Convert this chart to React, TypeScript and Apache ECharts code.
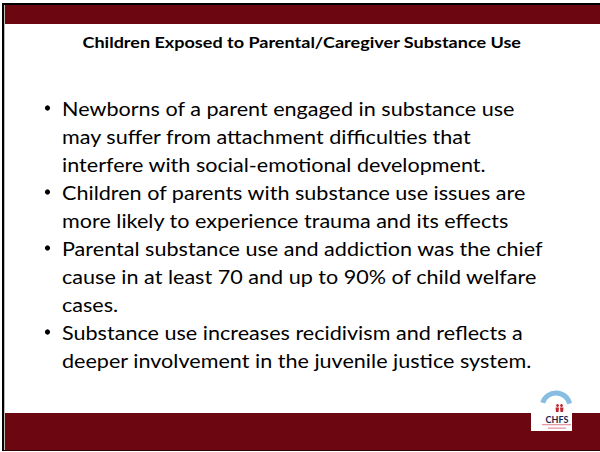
import React, { useEffect, useRef } from "react";
import * as echarts from "echarts";

const TITLE = "Children Exposed to Parental/Caregiver Substance Use";
const BULLETS: string[][] = [
  [
    "Newborns of a parent engaged in substance use",
    "may suffer from attachment difficulties that",
    "interfere with social-emotional development.",
  ],
  [
    "Children of parents with substance use issues are",
    "more likely to experience trauma and its effects",
  ],
  [
    "Parental substance use and addiction was the chief",
    "cause in at least 70 and up to 90% of child welfare",
    "cases.",
  ],
  [
    "Substance use increases recidivism and reflects a",
    "deeper involvement in the juvenile justice system.",
  ],
];
const LOGO_TEXT = "CHFS";

const MAROON = "#6C0711";
const BODY_FONT = "Lato";

function measure(text: string, font: string): number {
  const c = document.createElement("canvas");
  const ctx = c.getContext("2d");
  if (!ctx) return text.length * 10;
  ctx.font = font;
  return ctx.measureText(text).width;
}

export default function App() {
  const ref = useRef<HTMLDivElement>(null);
  useEffect(() => {
    document.body.style.margin = "0";
    if (!ref.current) return;
    const chart = echarts.init(ref.current, undefined, { renderer: "svg" });

    const bodySize = 19;
    const refLine = BULLETS[2][0];
    const bodyScale = 481 / measure(refLine, `${bodySize}px ${BODY_FONT}`);
    const titleSize = 15;
    const titleScale = 439 / measure(TITLE, `bold ${titleSize}px ${BODY_FONT}`);

    const elements: any[] = [
      { type: "rect", shape: { x: 0, y: 0, width: 600, height: 452 }, style: { fill: "#ffffff" }, silent: true },
      { type: "rect", shape: { x: 4, y: 5, width: 596, height: 19 }, style: { fill: MAROON } },
      { type: "rect", shape: { x: 4, y: 413, width: 596, height: 37 }, style: { fill: MAROON } },
      { type: "rect", shape: { x: 2, y: 3, width: 598, height: 2 }, style: { fill: "#000000" } },
      { type: "rect", shape: { x: 2, y: 3, width: 2, height: 448 }, style: { fill: "#000000" } },
      { type: "rect", shape: { x: 4, y: 5, width: 1, height: 445 }, style: { fill: "#bdbdbd" } },
      { type: "rect", shape: { x: 4, y: 450, width: 596, height: 1 }, style: { fill: "#2a0205" } },
      {
        type: "text",
        x: 302 - 219.5,
        y: 43,
        scaleX: titleScale,
        style: {
          text: TITLE,
          font: `bold ${titleSize}px ${BODY_FONT}`,
          fill: "#000000",
          align: "left",
          verticalAlign: "middle",
        },
      },
    ];

    let lineIdx = 0;
    BULLETS.forEach((lines) => {
      const cy = 108 + 28 * lineIdx;
      elements.push({
        type: "circle",
        shape: { cx: 47.5, cy: cy, r: 2.6 },
        style: { fill: "#000000" },
      });
      lines.forEach((ln) => {
        const y = 108 + 28 * lineIdx;
        elements.push({
          type: "text",
          x: 62,
          y: y + 0.5,
          scaleX: bodyScale,
          style: {
            text: ln,
            font: `${bodySize}px ${BODY_FONT}`,
            fill: "#000000",
            align: "left",
            verticalAlign: "middle",
          },
        });
        lineIdx++;
      });
    });

    // logo
    elements.push({
      type: "group",
      x: 531,
      y: 388,
      children: [
        { type: "rect", shape: { x: 0, y: 0, width: 41, height: 43 }, style: { fill: "#ffffff" } },
        {
          type: "arc",
          shape: { cx: 25, cy: 19, r: 14, startAngle: Math.PI * 1.1, endAngle: Math.PI * 1.92 },
          style: { stroke: "#86bde0", lineWidth: 5, fill: "none" },
        },
        { type: "circle", shape: { cx: 26.5, cy: 17.5, r: 1.4 }, style: { fill: "#c0262f" } },
        { type: "circle", shape: { cx: 30.5, cy: 17.5, r: 1.4 }, style: { fill: "#c0262f" } },
        { type: "polygon", shape: { points: [[24.5, 19.5], [28, 19.5], [27.5, 24], [25, 24]] }, style: { fill: "#c0262f" } },
        { type: "polygon", shape: { points: [[29, 19.5], [32.5, 19.5], [32, 24], [29.5, 24]] }, style: { fill: "#c0262f" } },
        {
          type: "text",
          x: 26,
          y: 31,
          style: { text: LOGO_TEXT, font: "bold 9px Lato", fill: "#1c2350", align: "center", verticalAlign: "middle" },
        },
        { type: "rect", shape: { x: 11, y: 36, width: 29, height: 1.3 }, style: { fill: "#e39aa5" } },
        { type: "rect", shape: { x: 17, y: 39.5, width: 18, height: 1.3 }, style: { fill: "#e39aa5" } },
      ],
    });

    chart.setOption({
      animation: false,
      graphic: { elements },
    });
    return () => chart.dispose();
  }, []);
  return <div ref={ref} style={{ width: 600, height: 452 }} />;
}
